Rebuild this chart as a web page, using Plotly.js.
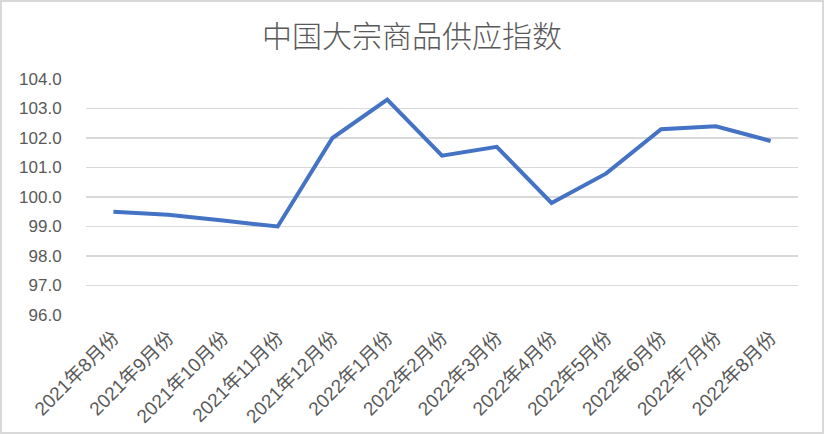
<!DOCTYPE html>
<html>
<head>
<meta charset="utf-8">
<script src="https://cdn.plot.ly/plotly-3.0.1.min.js"></script>
<style>
html,body{margin:0;padding:0;background:#fff;}
#wrap{position:relative;width:824px;height:434px;}
#chart{width:824px;height:434px;}
#frame{position:absolute;left:0;top:0;width:824px;height:434px;box-sizing:border-box;border:2px solid #d9d9d9;pointer-events:none;}
</style>
</head>
<body>
<div id="wrap"><div id="chart"></div><div id="frame"></div></div>
<script>
const categories = ["2021年8月份","2021年9月份","2021年10月份","2021年11月份","2021年12月份","2022年1月份","2022年2月份","2022年3月份","2022年4月份","2022年5月份","2022年6月份","2022年7月份","2022年8月份"];
const supplyIndex = [99.5, 99.4, 99.2, 99.0, 102.0, 103.3, 101.4, 101.7, 99.8, 100.8, 102.3, 102.4, 101.9];
const yTicks = [96, 97, 98, 99, 100, 101, 102, 103, 104];
const chartTitle = "中国大宗商品供应指数";

const fontFam = '"Liberation Sans", "Noto Sans CJK SC", sans-serif';

Plotly.newPlot('chart', [{
  type: 'scatter',
  mode: 'lines',
  x: categories,
  y: supplyIndex,
  line: {color: '#4472C4', width: 4},
  hoverinfo: 'x+y'
}], {
  width: 824,
  height: 434,
  margin: {l: 86, r: 26, t: 79, b: 119},
  paper_bgcolor: '#ffffff',
  plot_bgcolor: '#ffffff',
  showlegend: false,
  title: {
    text: chartTitle,
    font: {family: '"Noto Sans CJK SC", sans-serif', size: 30, weight: 300, color: '#595959'},
    x: 0.5, xanchor: 'center',
    y: 1 - 36/434, yanchor: 'middle', yref: 'container'
  },
  xaxis: {
    type: 'category',
    range: [-0.5, categories.length - 0.5],
    tickangle: -45,
    tickfont: {family: fontFam, size: 19, color: '#595959'},
    showgrid: false,
    zeroline: false,
    showline: false,
    ticks: 'outside', ticklen: 3, tickcolor: 'rgba(0,0,0,0)'
  },
  yaxis: {
    range: [96, 104],
    tickvals: yTicks,
    tickformat: '.1f',
    tickfont: {family: fontFam, size: 17, color: '#595959'},
    showgrid: true,
    gridcolor: '#d9d9d9',
    gridwidth: 1.5,
    zeroline: false,
    showline: false,
    ticks: 'outside', ticklen: 20, tickcolor: 'rgba(0,0,0,0)'
  }
}, {displayModeBar: false, staticPlot: true});
</script>
</body>
</html>
